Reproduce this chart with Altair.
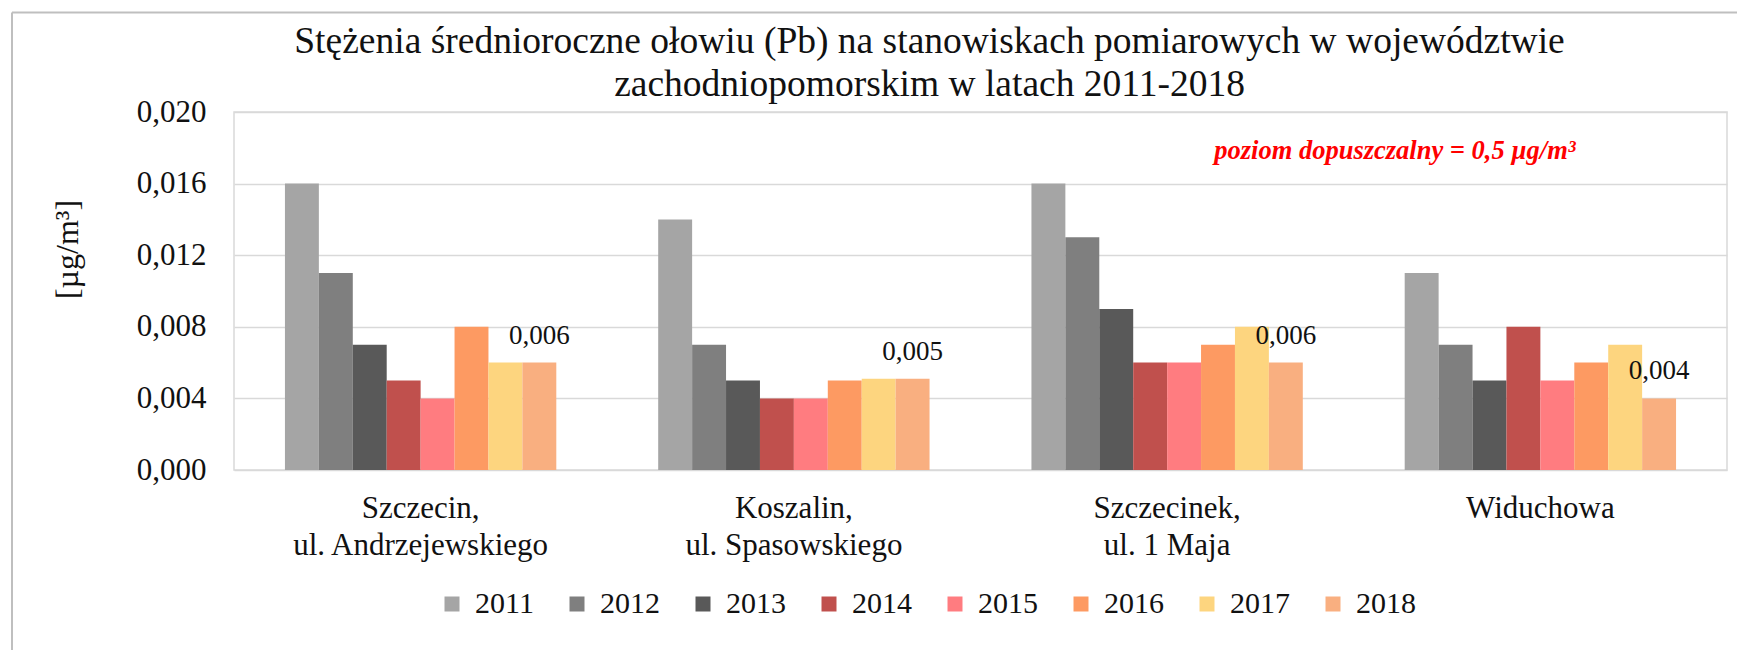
import altair as alt
import pandas as pd

# ---- data ----
YEARS = ["2011", "2012", "2013", "2014", "2015", "2016", "2017", "2018"]
STATIONS = [
    "Szczecin,\nul. Andrzejewskiego",
    "Koszalin,\nul. Spasowskiego",
    "Szczecinek,\nul. 1 Maja",
    "Widuchowa",
]
SZCZECIN = [0.016, 0.011, 0.007, 0.005, 0.004, 0.008, 0.006, 0.006]
KOSZALIN = [0.014, 0.007, 0.005, 0.004, 0.004, 0.005, 0.0051, 0.0051]
SZCZECINEK = [0.016, 0.013, 0.009, 0.006, 0.006, 0.007, 0.008, 0.006]
WIDUCHOWA = [0.011, 0.007, 0.005, 0.008, 0.005, 0.006, 0.007, 0.004]
COLORS = ["#A5A5A5", "#7F7F7F", "#595959", "#C0504D",
          "#FF7C80", "#FD9A62", "#FDD57F", "#F9AF80"]
Y_TICKS = [0.0, 0.004, 0.008, 0.012, 0.016, 0.020]
LABEL_YEAR = "2018"

TITLE_LINES = ["Stężenia średnioroczne ołowiu (Pb) na stanowiskach pomiarowych w województwie",
               "zachodniopomorskim w latach 2011-2018"]
Y_TITLE = "[µg/m³]"
NOTE = "poziom dopuszczalny = 0,5 µg/m³"

rows = []
for st, vals in zip(STATIONS, [SZCZECIN, KOSZALIN, SZCZECINEK, WIDUCHOWA]):
    for yr, v in zip(YEARS, vals):
        rows.append({"Station": st, "Year": yr, "Value": v})
df = pd.DataFrame(rows)

FONT = "Liberation Serif"
INK = "#111111"
W, H = 1493, 358

x_enc = alt.X(
    "Station:N", sort=STATIONS, title=None,
    scale=alt.Scale(paddingInner=0.273, paddingOuter=0.1365),
    axis=alt.Axis(labelExpr="split(datum.label, '\\n')", labelAngle=0,
                  labelFontSize=31, labelFont=FONT, labelColor=INK,
                  labelPadding=23, labelLineHeight=37, labelLimit=600,
                  ticks=False, domain=False, grid=False),
)
xo_enc = alt.XOffset("Year:N", sort=YEARS, scale=alt.Scale(paddingInner=0, paddingOuter=0))
y_enc = alt.Y(
    "Value:Q",
    scale=alt.Scale(domain=[0, 0.02], nice=False),
    axis=alt.Axis(values=Y_TICKS, labelExpr="replace(format(datum.value, '.3f'), '.', ',')",
                  labelFontSize=31, labelFont=FONT, labelColor=INK,
                  labelPadding=28, ticks=False, domain=False,
                  gridColor="#D9D9D9", gridWidth=1.5,
                  title=Y_TITLE, titleFont=FONT, titleFontSize=32,
                  titleFontWeight="normal", titleColor=INK,
                  titleX=-167, titleY=137, titleAngle=270,
                  titleBaseline="middle", titleAlign="center"),
)

bars = alt.Chart(df).mark_bar().encode(
    x=x_enc, xOffset=xo_enc, y=y_enc,
    color=alt.Color("Year:N", sort=YEARS,
                    scale=alt.Scale(domain=YEARS, range=COLORS),
                    legend=alt.Legend(title=None, orient="none", legendX=203, legendY=477,
                                      direction="horizontal", columns=8,
                                      symbolType="square", symbolSize=225,
                                      symbolStrokeWidth=0, symbolOpacity=1,
                                      labelFont=FONT, labelFontSize=30, labelLimit=200,
                                      labelColor=INK, labelOffset=8,
                                      columnPadding=28)),
)

labels = alt.Chart(df).transform_filter(
    alt.datum.Year == LABEL_YEAR
).transform_calculate(
    lab="replace(format(datum.Value, '.3f'), '.', ',')"
).mark_text(font=FONT, fontSize=27, color=INK, baseline="alphabetic", dy=-19).encode(
    x=alt.X("Station:N", sort=STATIONS), xOffset=alt.XOffset("Year:N", sort=YEARS),
    y="Value:Q", text="lab:N",
)

note = alt.Chart(pd.DataFrame({"note": [NOTE]})).mark_text(
    font=FONT, fontSize=26.5, fontStyle="italic", fontWeight="bold",
    color="#FF0000", align="center", baseline="alphabetic",
).encode(text="note:N", x=alt.value(1161), y=alt.value(46.5))

title1 = alt.Chart(pd.DataFrame({"t": [TITLE_LINES[0]]})).mark_text(
    font=FONT, fontSize=37.5, color=INK, align="center", baseline="alphabetic",
).encode(text="t:N", x=alt.value(695.5), y=alt.value(-59.5))
title2 = alt.Chart(pd.DataFrame({"t": [TITLE_LINES[1]]})).mark_text(
    font=FONT, fontSize=37.5, color=INK, align="center", baseline="alphabetic",
).encode(text="t:N", x=alt.value(695.5), y=alt.value(-16.5))

frame_df = pd.DataFrame({"k": [0]})
frame_left = alt.Chart(frame_df).mark_rule(color="#BFBFBF", strokeWidth=2).encode(
    x=alt.value(-222), y=alt.value(-99.5), y2=alt.value(560))
frame_top = alt.Chart(frame_df).mark_rule(color="#BFBFBF", strokeWidth=2).encode(
    x=alt.value(-222), x2=alt.value(1520), y=alt.value(-99.5))

chart = alt.layer(frame_left, frame_top, bars, labels, note, title1, title2).properties(
    width=W, height=H,
    autosize=alt.AutoSizeParams(type="none"),
    padding={"left": 226, "top": 104, "right": 10, "bottom": 180},
).configure(background="white", font=FONT).configure_view(stroke="#D9D9D9", strokeWidth=1.5)

chart.save("out.html", embed_options={"renderer": "svg", "actions": False})
